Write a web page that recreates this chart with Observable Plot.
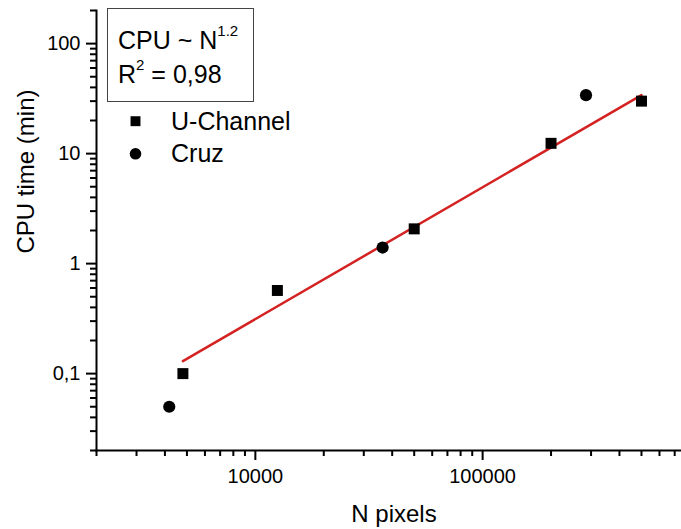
<!DOCTYPE html>
<html><head><meta charset="utf-8">
<script src="https://cdn.jsdelivr.net/npm/d3@7"></script>
<script src="https://cdn.jsdelivr.net/npm/@observablehq/plot@0.6"></script>
<style>html,body{margin:0;padding:0;background:#fff} svg{display:block}</style>
</head><body><div id="chart"></div>
<script>
// Data
const uN   = [4800, 12500, 50000, 200000, 500000];
const uCPU = [0.10, 0.57, 2.07, 12.4, 30];
const cN   = [4180, 36300, 285000];
const cCPU = [0.05, 1.4, 34];
const fitN   = [4800, 500000];
const fitCPU = [0.13, 34];
const seriesNames = ["U-Channel", "Cruz"];
const xTicks = [10000, 100000];
const xTickLabels = ["10000", "100000"];
const yTicks = [0.1, 1, 10, 100];
const yTickLabels = ["0,1", "1", "10", "100"];
const xTitle = "N pixels";
const yTitle = "CPU time (min)";

// minor tick positions (2..9 of each decade)
const xMinor = [];
for (const dec of [1000, 10000, 100000]) for (let k = 2; k <= 9; k++) { const v = k * dec; if (v >= 2000 && v <= 750000) xMinor.push(v); }
const yMinor = [];
for (const dec of [0.01, 0.1, 1, 10, 100]) for (let k = 2; k <= 9; k++) { const v = k * dec; if (v >= 0.02 && v <= 200) yMinor.push(+v.toPrecision(3)); }

const uData = uN.map((n, i) => ({n, t: uCPU[i]}));
const cData = cN.map((n, i) => ({n, t: cCPU[i]}));
const fitData = fitN.map((n, i) => ({n, t: fitCPU[i]}));

const font = "'Liberation Sans', Arial, sans-serif";
const chart = Plot.plot({
  width: 681, height: 529,
  marginLeft: 96, marginRight: 0, marginTop: 10, marginBottom: 79,
  style: {fontFamily: font, fontSize: "20px", background: "#fff", color: "#000"},
  x: {type: "log", domain: [2000, 750000]},
  y: {type: "log", domain: [0.02, 200]},
  marks: [
    Plot.axisX(xMinor, {tickSize: 6, strokeWidth: 2, text: null, label: null}),
    Plot.axisX(xTicks, {tickSize: 10, strokeWidth: 2, tickPadding: 8, label: null,
      tickFormat: d => xTickLabels[xTicks.indexOf(d)]}),
    Plot.axisY(yMinor, {tickSize: 6, strokeWidth: 2, text: null, label: null}),
    Plot.axisY(yTicks, {tickSize: 10, strokeWidth: 2, tickPadding: 6, label: null,
      tickFormat: d => yTickLabels[yTicks.indexOf(d)]}),
    Plot.frame({anchor: "left", strokeWidth: 2}),
    Plot.frame({anchor: "bottom", strokeWidth: 2}),
    Plot.line(fitData, {x: "n", y: "t", stroke: "#d42222", strokeWidth: 2.5}),
    Plot.dot(uData, {x: "n", y: "t", symbol: "square", r: 6.2, fill: "#000", stroke: "none"}),
    Plot.dot(cData, {x: "n", y: "t", symbol: "circle", r: 6.1, fill: "#000", stroke: "none"}),
    Plot.text([yTitle], {frameAnchor: "left", rotate: -90, dx: -70, dy: 23, fontSize: 24, lineAnchor: "middle", text: d => d}),
    Plot.text([xTitle], {frameAnchor: "bottom", dx: 5, dy: 64, fontSize: 24, lineAnchor: "middle", text: d => d}),
    // legend markers
    Plot.dot([seriesNames[0]], {frameAnchor: "top-left", dx: 39, dy: 110.7, symbol: "square", r: 5.6, fill: "#000", stroke: "none"}),
    Plot.dot([seriesNames[1]], {frameAnchor: "top-left", dx: 39, dy: 143.3, symbol: "circle", r: 5.8, fill: "#000", stroke: "none"}),
    Plot.text([seriesNames[0]], {frameAnchor: "top-left", dx: 74.5, dy: 111, textAnchor: "start", lineAnchor: "middle", fontSize: 25, text: d => d}),
    Plot.text([seriesNames[1]], {frameAnchor: "top-left", dx: 74.5, dy: 143, textAnchor: "start", lineAnchor: "middle", fontSize: 25, text: d => d})
  ]
});
document.getElementById("chart").appendChild(chart);

// annotation box
const svg = d3.select(chart);
const g = svg.append("g").attr("font-family", font).attr("fill", "#000").attr("text-anchor", "start");
g.append("rect").attr("x", 107.5).attr("y", 8.5).attr("width", 146).attr("height", 93)
  .attr("fill", "#fff").attr("stroke", "#444").attr("stroke-width", 1);
const t1 = g.append("text").attr("x", 118).attr("y", 49).attr("font-size", 25);
t1.append("tspan").text("CPU ~ N");
t1.append("tspan").attr("font-size", 15).attr("dy", -13).text("1.2");
const t2 = g.append("text").attr("x", 118).attr("y", 82.5).attr("font-size", 25);
t2.append("tspan").text("R");
t2.append("tspan").attr("font-size", 15).attr("dy", -13).text("2");
t2.append("tspan").attr("dy", 13).text(" = 0,98");
</script>
</body></html>
